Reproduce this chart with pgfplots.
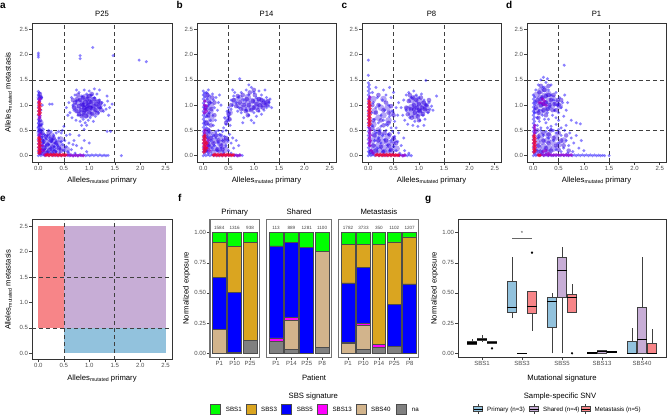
\documentclass[border=0pt]{standalone}
\usepackage{pgfplots}
\pgfplotsset{compat=1.18}
\usepackage{fontspec}
\setmainfont{Liberation Sans}

\newcommand{\fsz}[1]{\fontsize{#1bp}{#1bp}\selectfont}
\newcommand{\mutlab}{Alleles\raisebox{-1.3bp}{\fsz{5.2}mutated}}

% signature colours
\definecolor{cS1}{HTML}{00FF00}
\definecolor{cS3}{HTML}{DAA520}
\definecolor{cS5}{HTML}{0000FF}
\definecolor{cS13}{HTML}{FF00FF}
\definecolor{cS40}{HTML}{D2B48C}
\definecolor{cNA}{HTML}{808080}
% sample groups
\definecolor{cPri}{HTML}{92C2DD}
\definecolor{cSha}{HTML}{C7ADD6}
\definecolor{cMet}{HTML}{F78588}
% density shades for the allele scatter
\definecolor{ptB}{HTML}{2E1CFF}
\definecolor{ptM}{HTML}{3000E0}
\definecolor{ptD}{HTML}{3A10E8}
\definecolor{ptP}{HTML}{9900CC}
\definecolor{ptR}{HTML}{F5002E}

\pgfplotsset{
  ggax/.style={
    scale only axis, anchor=south west,
    axis line style={draw=black!80, line width=0.5bp},
    tick align=outside, tick pos=left,
    major tick length=2.6bp,
    tick style={draw=black!75, line width=0.45bp},
    tick label style={font=\fsz{6}, text=black!70, inner sep=1.2bp},
    /pgf/number format/assume math mode=true,
  },
  allele/.style={ggax, width=139bp, height=139bp,
    xmin=-0.125, xmax=2.625, ymin=-0.125, ymax=2.625,
    xtick={0,0.5,1,1.5,2,2.5}, ytick={0,0.5,1,1.5,2,2.5},
    /pgf/number format/fixed, /pgf/number format/fixed zerofill,
    /pgf/number format/precision=1,
  },
  pt/.style={only marks, mark=*, mark size=1.65bp, color=#1,
    mark options={draw opacity=0, fill opacity=0.55}},
  ptcore/.style={only marks, mark=*, mark size=2.3bp, color=#1,
    mark options={draw opacity=0, fill opacity=0.5}},
  ptblob/.style={only marks, mark=*, mark size=3.3bp, color=#1,
    mark options={draw opacity=0, fill opacity=0.38}},
  pthot/.style={only marks, mark=*, mark size=1.9bp, color=#1,
    mark options={draw opacity=0, fill opacity=0.72}},
  expo/.style={ggax, height=138.2bp, ymin=-0.035, ymax=1.11,
    /pgf/number format/fixed, /pgf/number format/fixed zerofill,
    /pgf/number format/precision=2,
  },
  facet/.style={expo, ybar stacked, bar width=0.9,
    axis line style={draw=black!55, line width=1.1bp},
    every axis plot/.append style={draw=black!70, line width=0.7bp},
  },
}
\tikzset{
  dashln/.style={black!75, line width=0.55bp, dash pattern=on 4bp off 3bp},
  lab/.style={font=\fsz{7.7}, inner sep=0pt},
  plet/.style={font=\fsz{10}\bfseries, inner sep=0pt, anchor=base west},
}
\newcommand{\quads}{%
  \draw[dashln] (axis cs:0.5,-0.125) -- (axis cs:0.5,2.625);
  \draw[dashln] (axis cs:1.5,-0.125) -- (axis cs:1.5,2.625);
  \draw[dashln] (axis cs:-0.125,0.5) -- (axis cs:2.625,0.5);
  \draw[dashln] (axis cs:-0.125,1.5) -- (axis cs:2.625,1.5);
}
% one box of a box plot: left, centre, right, lower whisker, Q1, median, Q3, upper whisker, fill
\newcommand{\gbox}[9]{%
  \addplot[draw=black!75, line width=0.5bp] coordinates {(#2,#4)(#2,#5)};
  \addplot[draw=black!75, line width=0.5bp] coordinates {(#2,#7)(#2,#8)};
  \addplot[fill=#9, draw=black!75, line width=0.5bp] coordinates {(#1,#5)(#3,#5)(#3,#7)(#1,#7)} -- cycle;
  \addplot[draw=black, line width=1.1bp] coordinates {(#1,#6)(#3,#6)};
}

\begin{document}
\begin{tikzpicture}[x=1bp,y=1bp]
\useasboundingbox (0,0) rectangle (667,415);

% ---------------- a : P25 ----------------
\begin{axis}[allele, at={(32bp,253bp)}, width=140bp]
\addplot[ptblob=ptD] coordinates {
(0.72,0.98)(0.78,0.9)(0.78,1.06)(0.85,0.84)(0.85,0.98)(0.85,1.12)(0.92,0.8)(0.92,0.92)(0.92,1.04)(0.92,1.16)
(1,0.82)(1,0.94)(1,1.06)(1,1.16)(1.08,0.86)(1.08,0.98)(1.08,1.1)(1.15,0.92)(1.15,1.04)(1.2,0.98)
(0.06,0.08)(0.14,0.06)(0.22,0.08)(0.1,0.16)(0.18,0.18)(0.28,0.14)(0.06,0.28)(0.14,0.28)(0.24,0.26)(0.34,0.2)
(0.1,0.38)(0.2,0.36)(0.3,0.3)(0.4,0.24)(0.38,0.1)(0.48,0.16)(0.3,0.06)(0.44,0.32)(0.26,0.4)(0.56,0.12)
(0.03,0.45)(0.03,0.55)(0.04,0.65)(0.03,1.15)
};
\addplot[pt=ptB] coordinates {
(0,0)(0.025,0.04)(0,0.08)(0.025,0.12)(0,0.16)(0.025,0.2)(0,0.24)(0.025,0.28)(0,0.32)(0.025,0.36)
(0,0.4)(0.025,0.44)(0,0.48)(0.025,0.52)(0,0.56)(0.025,0.6)(0,0.64)(0.025,0.68)(0,0.72)(0.025,0.76)
(0,0.8)(0.025,0.84)(0,0.88)(0.025,0.92)(0,0.96)(0.025,1)(0,1.04)(0.025,1.08)(0,1.12)(0.025,1.16)
(0,1.2)(0.02,1.24)(0,1.27)(0.06,0.5)(0.07,0.62)(0.05,0.9)(0.08,1)(0.06,1.15)(0.09,0.3)
(0.05,0)(0.09,0.015)(0.13,0)(0.17,0.015)(0.21,0)(0.25,0.015)(0.29,0)(0.33,0.015)(0.37,0)(0.41,0.015)
(0.45,0)(0.49,0.015)(0.53,0)(0.57,0.015)(0.61,0)(0.65,0.015)(0.69,0)(0.73,0.015)(0.77,0)(0.81,0.015)
(0.85,0)(0.89,0.015)(0.93,0)(0.97,0.015)(1.01,0)(1.05,0.015)(1.09,0)(1.13,0.015)(1.17,0)(1.21,0.015)
(1.25,0)(1.29,0.01)(1.33,0)(1.37,0.005)(1.63,0)
(0.05,0.45)(0.08,0.38)(0.12,0.42)(0.15,0.33)(0.18,0.4)(0.22,0.35)(0.25,0.28)(0.28,0.32)(0.3,0.4)(0.33,0.25)
(0.35,0.3)(0.38,0.2)(0.4,0.35)(0.42,0.15)(0.45,0.28)(0.48,0.22)(0.5,0.1)(0.52,0.3)(0.55,0.18)(0.58,0.08)
(0.6,0.25)(0.62,0.42)(0.65,0.12)(0.7,0.3)(0.72,0.05)(0.75,0.2)(0.8,0.4)(0.85,0.15)(0.47,0.5)(0.5,0.58)
(0.45,0.45)(0.4,0.48)(0.35,0.45)(0.25,0.48)(0.2,0.5)(0.1,0.52)(0.3,0.12)(0.35,0.08)(0.25,0.15)(0.2,0.22)
(0.15,0.2)(0.1,0.25)(0.12,0.12)(0.18,0.08)(0.22,0.05)(0.28,0.05)(0.32,0.18)(0.42,0.05)(0.55,0.4)(0.6,0.05)
(0.68,0.22)(0.95,0.08)(1,0.25)(0.9,0.3)
(0.55,0.95)(0.6,1.05)(0.62,0.85)(0.65,1.15)(0.66,0.75)(0.68,1)(0.7,0.9)(0.72,1.2)(0.74,0.7)(0.75,1.08)
(0.78,0.8)(0.8,1.25)(0.82,0.68)(0.85,1.18)(0.88,0.72)(0.9,1.3)(0.92,0.65)(0.95,1.22)(0.98,0.7)(1,1.28)
(1.02,0.75)(1.05,1.2)(1.08,0.68)(1.1,1.15)(1.12,0.78)(1.15,1.22)(1.18,0.85)(1.2,1.1)(1.22,0.95)(1.25,1.05)
(1.28,0.88)(1.3,1)(1.33,0.92)(1.36,1.08)(1.4,0.95)(1.45,1.02)(1.2,1.3)(1.1,1.32)(0.95,0.6)(0.85,0.6)
(0.75,1.3)(0.58,0.8)(1.38,0.8)(1.35,1.18)(0.9,0.52)(1.35,0.48)(1.42,0.48)
(0,1.95)(0,1.99)(0,2.03)(0.82,1.92)(0.82,1.98)(1.07,2.14)(1.47,1.98)(1.98,1.89)(2.12,1.86)(0.22,1.02)(0.27,1.02)
};
\addplot[ptcore=ptM] coordinates {
(0.7,0.95)(0.72,1.05)(0.75,0.88)(0.76,1.12)(0.8,0.98)(0.8,0.82)(0.82,1.1)(0.84,0.9)(0.86,1.02)(0.88,1.15)
(0.9,0.85)(0.9,0.95)(0.92,1.06)(0.94,0.78)(0.95,0.92)(0.96,1.12)(0.98,1)(1,0.86)(1,1.18)(1.02,0.95)
(1.04,1.06)(1.06,0.82)(1.08,0.98)(1.1,1.12)(1.12,0.9)(1.14,1.02)(1.16,0.84)(1.18,1.08)(1.2,0.96)(1.22,1.04)
(0.85,0.78)(1.05,1.22)(0.78,1.2)(1.24,0.9)(0.68,1.1)(0.88,1)(0.96,0.98)(1.04,0.94)(0.92,0.9)(1,1.06)
(0.04,0.05)(0.08,0.1)(0.06,0.2)(0.12,0.15)(0.1,0.28)(0.16,0.06)(0.18,0.22)(0.22,0.12)(0.25,0.3)(0.28,0.18)
(0.32,0.08)(0.35,0.25)(0.15,0.38)(0.05,0.35)(0.4,0.15)(0.3,0.35)(0.45,0.1)(0.2,0.45)(0.08,0.45)
(0.03,0.5)(0.03,0.6)(0.03,0.7)(0.04,1.15)(0.03,1.22)
};
\addplot[pthot=ptP] coordinates {
(0.02,0.38)(0.03,0.42)(0.02,0.75)(0.03,0.79)(0.02,1.08)(0.03,1.12)(0.58,0.01)(0.63,0.01)(0.68,0)(0.73,0.01)
(0.78,0)(0.83,0.01)(0.88,0)(0.05,0.12)(0.08,0.2)(0.1,0.1)(0.04,0.05)(0.12,0.02)(0.15,0.03)
};
\addplot[pthot=ptR] coordinates {
(0.01,0.05)(0.035,0.08)(0.01,0.11)(0.035,0.14)(0.01,0.17)(0.035,0.2)(0.01,0.23)(0.035,0.26)(0.01,0.29)(0.03,0.32)(0.01,0.35)
(0.01,0.82)(0.035,0.85)(0.01,0.88)(0.035,0.91)(0.01,0.94)(0.035,0.97)(0.01,1)(0.035,1.03)(0.01,1.06)
(0.15,0.01)(0.18,0.025)(0.21,0.005)(0.24,0.025)(0.27,0.005)(0.3,0.025)(0.33,0.005)(0.36,0.025)(0.39,0.005)
(0.42,0.025)(0.45,0.005)(0.48,0.02)(0.51,0.005)(0.54,0.015)
};
\quads
\end{axis}

% ---------------- b : P14 ----------------
\begin{axis}[allele, at={(197bp,253bp)}]
\addplot[ptblob=ptD] coordinates {
(0.62,1.08)(0.7,1)(0.72,1.14)(0.8,0.95)(0.8,1.08)(0.88,0.92)(0.88,1.04)(0.88,1.16)(0.96,0.95)(0.96,1.08)
(1.04,0.96)(1.04,1.08)(1.12,0.98)(1.12,1.1)(1.2,1.02)(1.26,1.05)(0.48,0.72)(0.52,0.85)
(0.05,0.12)(0.12,0.1)(0.08,0.22)(0.16,0.22)(0.06,0.35)(0.14,0.34)(0.24,0.3)(0.32,0.25)(0.22,0.15)(0.3,0.12)
(0.08,0.5)(0.06,0.65)(0.08,0.8)(0.06,0.95)(0.1,1.1)(0.06,1.2)(0.15,1)(0.4,0.2)
(0.2,0.06)(0.36,0.06)(0.44,0.12)(0.22,0.42)(0.34,0.38)(0.46,0.3)(0.12,0.46)(0.16,0.72)(0.14,0.88)
};
\addplot[pt=ptB] coordinates {
(0,0)(0.025,0.04)(0,0.08)(0.025,0.12)(0,0.16)(0.025,0.2)(0,0.24)(0.025,0.28)(0,0.32)(0.025,0.36)
(0,0.4)(0.025,0.44)(0,0.48)(0.025,0.52)(0,0.56)(0.025,0.6)(0,0.64)(0.025,0.68)(0,0.72)(0.025,0.76)
(0,0.8)(0.025,0.84)(0,0.88)(0.025,0.92)(0,0.96)(0.025,1)(0,1.04)(0.025,1.08)(0,1.12)(0.025,1.16)
(0,1.2)(0.02,1.24)(0,1.28)
(0.06,0.1)(0.1,0.2)(0.08,0.35)(0.12,0.45)(0.06,0.55)(0.1,0.62)(0.14,0.7)(0.07,0.78)(0.12,0.85)(0.05,0.92)
(0.1,1)(0.15,1.05)(0.08,1.12)(0.13,1.18)(0.06,1.25)(0.1,1.3)(0.18,1.22)(0.2,1.1)(0.22,0.95)(0.18,0.8)
(0.25,1.15)(0.3,1.05)(0.28,0.9)(0.24,0.7)(0.2,0.6)(0.32,1.2)(0.35,1)
(0.05,0)(0.09,0.015)(0.13,0)(0.17,0.015)(0.21,0)(0.25,0.015)(0.29,0)(0.33,0.015)(0.37,0)(0.41,0.015)
(0.45,0)(0.49,0.015)(0.53,0)(0.57,0.015)(0.61,0)(0.65,0.015)(0.69,0)(0.73,0.015)(0.77,0.005)
(0.1,0.05)(0.15,0.3)(0.2,0.4)(0.22,0.2)(0.25,0.35)(0.28,0.1)(0.3,0.25)(0.32,0.42)(0.35,0.15)(0.38,0.3)
(0.4,0.05)(0.42,0.38)(0.45,0.2)(0.48,0.3)(0.5,0.1)(0.52,0.42)(0.55,0.25)(0.58,0.35)(0.6,0.15)(0.38,0.48)
(0.3,0.5)(0.45,0.5)(0.25,0.48)(0.65,0.3)(0.7,0.2)(0.55,0.05)(0.18,0.15)(0.35,0.4)
(0.4,0.55)(0.45,0.62)(0.48,0.7)(0.5,0.78)(0.52,0.85)(0.42,0.75)(0.55,0.92)(0.5,0.95)(0.58,1)(0.55,1.1)
(0.6,1.18)(0.62,1.25)(0.58,1.3)(0.47,0.88)(0.53,0.6)
(0.65,1.05)(0.7,1.15)(0.7,0.95)(0.75,1.25)(0.75,0.85)(0.8,1.1)(0.8,0.75)(0.85,1.3)(0.85,0.9)(0.9,1.2)
(0.9,0.8)(0.95,1.35)(0.95,0.7)(1,1.25)(1,0.85)(1.05,1.15)(1.05,0.78)(1.1,1.28)(1.1,0.88)(1.15,1.2)
(1.15,0.82)(1.2,1.1)(1.2,0.9)(1.25,1.15)(1.25,0.95)(1.3,1.05)(1.3,0.98)(1.35,0.95)(1.32,1.12)(1.22,1.3)
(0.72,1.52)(0.78,0.65)(1,0.65)(0.9,1.4)(0.68,0.88)
};
\addplot[ptcore=ptM] coordinates {
(0.6,1.1)(0.65,0.98)(0.68,1.18)(0.72,1.05)(0.75,0.92)(0.78,1.2)(0.8,1)(0.84,0.88)(0.86,1.12)(0.9,1)
(0.92,1.25)(0.95,0.9)(0.98,1.08)(1,0.95)(1.02,1.2)(1.05,1.02)(1.08,0.9)(1.1,1.12)(1.12,1)(1.15,1.1)
(1.18,0.95)(1.2,1.05)(1.25,1)(1.28,1.08)(0.88,0.8)(1,1.3)(0.45,0.65)(0.5,0.82)(0.55,1)(0.52,0.72)
(0.05,0.1)(0.08,0.25)(0.12,0.18)(0.06,0.4)(0.1,0.5)(0.15,0.35)(0.2,0.25)(0.06,0.65)(0.1,0.8)(0.05,0.95)
(0.12,1.05)(0.08,1.2)(0.16,0.92)(0.18,1.15)(0.22,1.05)(0.25,0.4)(0.3,0.3)(0.35,0.2)(0.28,0.12)(0.4,0.3)
(0.15,0.6)(0.22,0.8)(0.45,0.35)(0.38,0.12)
};
\addplot[pthot=ptP] coordinates {
(0.02,0.45)(0.03,0.5)(0.02,0.85)(0.03,0.92)(0.02,1)(0.03,1.08)(0.05,0.15)(0.08,0.2)(0.12,0.1)(0.62,0.01)
(0.67,0)(0.72,0.01)(0.1,0.3)(0.06,0.88)(0.06,0.98)
};
\addplot[pthot=ptR] coordinates {
(0.01,0.07)(0.04,0.1)(0.01,0.13)(0.04,0.16)(0.01,0.19)(0.04,0.22)(0.01,0.25)(0.04,0.28)(0.01,0.31)(0.04,0.34)
(0.01,0.37)(0.03,0.4)(0.07,0.15)(0.07,0.25)
(0.2,0.01)(0.23,0.025)(0.26,0.005)(0.29,0.025)(0.32,0.005)(0.35,0.025)(0.38,0.005)(0.41,0.025)(0.44,0.005)
(0.47,0.025)(0.5,0.005)(0.53,0.02)(0.56,0.005)(0.59,0.015)
};
\quads
\end{axis}

% ---------------- c : P8 ----------------
\begin{axis}[allele, at={(362bp,253bp)}]
\addplot[ptblob=ptD] coordinates {
(0.78,0.92)(0.85,0.82)(0.85,0.96)(0.85,1.1)(0.93,0.78)(0.93,0.9)(0.93,1.02)(0.93,1.14)(1.01,0.84)(1.01,0.96)
(1.01,1.08)(1.09,0.9)(1.09,1.02)(1.15,0.96)
(0.06,0.06)(0.14,0.08)(0.22,0.1)(0.1,0.18)(0.2,0.2)(0.3,0.16)(0.4,0.12)(0.08,0.3)(0.18,0.32)(0.28,0.28)
(0.38,0.26)(0.48,0.22)(0.12,0.42)(0.25,0.4)(0.38,0.38)(0.5,0.3)(0.32,0.06)(0.46,0.08)(0.56,0.14)(0.2,0.5)
(0.1,0.62)(0.2,0.75)(0.3,0.8)(0.12,0.88)(0.25,0.95)(0.38,0.95)(0.1,1.12)(0.3,1.12)(0.4,0.7)(0.46,0.85)
};
\addplot[pt=ptB] coordinates {
(0,0)(0.025,0.04)(0,0.08)(0.025,0.12)(0,0.16)(0.025,0.2)(0,0.24)(0.025,0.28)(0,0.32)(0.025,0.36)
(0,0.4)(0.025,0.44)(0,0.48)(0.025,0.52)(0,0.56)(0.025,0.6)(0,0.64)(0.025,0.68)(0,0.72)(0.025,0.76)
(0,0.8)(0.025,0.84)(0,0.88)(0.025,0.92)(0,0.96)(0.025,1)(0,1.04)(0.025,1.08)(0,1.12)(0.025,1.16)
(0,1.2)(0.025,1.24)(0,1.28)(0.025,1.32)(0,1.36)(0.02,1.4)(0,1.44)(0,1.59)(0,1.89)
(0.05,0)(0.09,0.015)(0.13,0)(0.17,0.015)(0.21,0)(0.25,0.015)(0.29,0)(0.33,0.015)(0.37,0)(0.41,0.015)
(0.45,0)(0.49,0.015)(0.53,0)(0.57,0.015)(0.61,0)(0.65,0.015)(0.69,0)(0.73,0.015)(0.77,0)(0.81,0.015)(0.85,0)
(0.08,0.05)(0.12,0.3)(0.15,0.45)(0.18,0.15)(0.2,0.35)(0.22,0.5)(0.25,0.25)(0.28,0.4)(0.3,0.08)(0.32,0.32)
(0.35,0.5)(0.38,0.2)(0.4,0.42)(0.42,0.1)(0.45,0.3)(0.48,0.48)(0.5,0.18)(0.52,0.38)(0.55,0.1)(0.58,0.28)
(0.6,0.45)(0.62,0.05)(0.65,0.2)(0.7,0.35)(0.72,0.1)(0.8,0.05)(0.55,0.55)(0.45,0.55)
(0.08,0.6)(0.12,0.72)(0.06,0.85)(0.15,0.95)(0.1,1.05)(0.18,1.15)(0.08,1.25)(0.2,0.65)(0.25,0.8)(0.22,1)
(0.28,1.1)(0.3,0.7)(0.32,0.9)(0.35,1.2)(0.38,0.6)(0.4,1)(0.42,0.78)(0.45,1.15)(0.48,0.88)(0.5,1.25)
(0.52,0.68)(0.55,0.95)(0.3,1.3)(0.15,1.35)(0.42,1.35)(0.6,1.05)(0.58,0.8)(0.25,0.58)(0.12,0.5)(0.35,0.62)
(0.65,0.95)(0.68,0.8)(0.7,1.1)(0.72,0.7)(0.75,1.2)(0.78,0.62)(0.8,1.25)(0.82,0.75)(0.85,1.15)(0.88,0.6)
(0.9,1.28)(0.92,0.68)(0.95,1.2)(0.98,0.58)(1,1.15)(1.02,0.7)(1.05,1.22)(1.08,0.8)(1.1,1.1)(1.12,0.72)
(1.15,1)(1.18,0.85)(1.2,1.05)(1.22,0.92)(1.25,0.98)(1.28,0.9)(1.35,1.18)(1.14,1.49)(0.75,0.9)(1.1,0.6)
};
\addplot[ptcore=ptM] coordinates {
(0.75,0.95)(0.78,0.82)(0.8,1.08)(0.84,0.92)(0.86,0.75)(0.88,1.15)(0.9,1)(0.92,0.85)(0.95,1.1)(0.96,0.95)
(0.98,0.78)(1,1.02)(1.02,0.88)(1.04,1.15)(1.06,0.95)(1.08,0.82)(1.1,1.05)(1.12,0.92)(1.15,1)(1.18,0.88)
(0.82,1.2)(1,0.7)(1.2,1.1)(0.9,0.92)(1,0.9)
(0.05,0.08)(0.1,0.2)(0.15,0.1)(0.2,0.3)(0.25,0.18)(0.3,0.08)(0.35,0.3)(0.4,0.2)(0.45,0.12)(0.5,0.35)
(0.12,0.4)(0.22,0.45)(0.32,0.45)(0.08,0.55)(0.55,0.25)(0.42,0.42)
(0.1,0.7)(0.15,0.85)(0.2,1)(0.25,0.7)(0.3,0.9)(0.35,1.05)(0.4,0.85)(0.45,0.98)(0.08,1)(0.2,1.2)
(0.3,0.6)(0.4,0.65)(0.5,0.8)
};
\addplot[pthot=ptP] coordinates {
(0.03,0.2)(0.02,0.25)(0.04,0.3)(0.02,0.35)(0.04,0.4)(0.02,0.45)(0.04,0.5)(0.02,0.55)(0.02,1.12)(0.03,1.16)
(0.06,0.1)(0.1,0.05)(0.62,0.01)(0.68,0)(0.72,0.01)
};
\addplot[pthot=ptR] coordinates {
(0.01,0.6)(0.035,0.63)(0.01,0.66)(0.035,0.69)(0.01,0.72)(0.035,0.75)(0.01,0.78)(0.035,0.81)(0.01,0.84)
(0.035,0.87)(0.01,0.9)(0.035,0.93)(0.01,0.96)(0.035,0.99)(0.01,1.02)(0.03,1.05)(0.01,1.08)
(0.15,0.01)(0.18,0.025)(0.21,0.005)(0.24,0.025)(0.27,0.005)(0.3,0.025)(0.33,0.005)(0.36,0.025)(0.39,0.005)
(0.42,0.025)(0.45,0.005)(0.48,0.02)(0.51,0.005)(0.54,0.015)(0.57,0.005)(0.6,0.01)
};
\quads
\end{axis}

% ---------------- d : P1 ----------------
\begin{axis}[allele, at={(527bp,253bp)}]
\addplot[ptblob=ptD] coordinates {
(0.06,0.9)(0.06,1.05)(0.06,1.2)(0.14,0.86)(0.14,1)(0.14,1.14)(0.14,1.28)(0.22,0.9)(0.22,1.04)(0.22,1.18)
(0.22,1.32)(0.3,0.95)(0.3,1.08)(0.3,1.22)(0.38,1)(0.38,1.14)(0.46,1.05)(0.52,0.98)
(0.06,0.06)(0.14,0.06)(0.22,0.08)(0.3,0.06)(0.1,0.16)(0.2,0.18)(0.3,0.16)(0.4,0.14)(0.08,0.28)(0.18,0.28)
(0.28,0.3)(0.38,0.26)(0.5,0.22)(0.15,0.4)(0.3,0.4)(0.45,0.36)(0.6,0.3)
};
\addplot[pt=ptB] coordinates {
(0,0)(0.025,0.04)(0,0.08)(0.025,0.12)(0,0.16)(0.025,0.2)(0,0.24)(0.025,0.28)(0,0.32)(0.025,0.36)
(0,0.4)(0.025,0.44)(0,0.48)(0.025,0.52)(0,0.56)(0.025,0.6)(0,0.64)(0.025,0.68)(0,0.72)(0.025,0.76)
(0,0.8)(0.025,0.84)(0,0.88)(0.025,0.92)(0,0.96)(0.025,1)(0,1.04)(0.025,1.08)(0,1.12)(0.025,1.16)(0,1.2)
(0.05,0)(0.09,0.015)(0.13,0)(0.17,0.015)(0.21,0)(0.25,0.015)(0.29,0)(0.33,0.015)(0.37,0)(0.41,0.015)
(0.45,0)(0.49,0.015)(0.53,0)(0.57,0.015)(0.61,0)(0.65,0.015)(0.69,0)(0.73,0.015)(0.77,0)(0.81,0.015)
(0.85,0)(0.89,0.015)(0.93,0)(0.97,0.015)(1.01,0)(1.05,0.015)(1.09,0)(1.13,0.015)(1.17,0)(1.21,0.015)
(1.25,0)(1.29,0.01)(1.33,0)(1.37,0.005)(1.41,0)(1.5,0)
(0.02,0.85)(0.05,1.3)(0.08,0.75)(0.1,1.4)(0.12,0.9)(0.15,1.5)(0.18,0.8)(0.2,1.35)(0.22,0.72)(0.25,1.45)
(0.28,0.85)(0.3,1.3)(0.32,0.95)(0.35,1.2)(0.38,0.8)(0.4,1.1)(0.42,0.9)(0.45,1.25)(0.48,1)(0.5,0.85)
(0.52,1.15)(0.55,0.95)(0.58,1.05)(0.6,0.78)(0.62,1.2)(0.65,0.9)(0.68,1.05)(0.35,1.4)(0.2,1.55)(0.28,1.52)
(0.45,0.75)(0.05,1.05)(0.61,1.79)
(0.08,0.6)(0.15,0.55)(0.25,0.65)(0.35,0.58)(0.45,0.62)(0.55,0.55)(0.65,0.6)(0.75,0.7)(0.85,0.65)(0.93,0.63)
(0.5,0.7)(0.3,0.72)(0.12,0.68)
(0.05,0.45)(0.1,0.35)(0.15,0.5)(0.2,0.4)(0.25,0.48)(0.3,0.35)(0.35,0.52)(0.4,0.3)(0.45,0.45)(0.5,0.25)
(0.55,0.4)(0.6,0.15)(0.62,0.5)(0.65,0.3)(0.7,0.2)(0.72,0.45)(0.75,0.35)(0.8,0.25)(0.85,0.4)(0.9,0.15)
(0.78,0.08)(0.68,0.05)(0.55,0.08)(0.45,0.12)(0.95,0.3)(1,0.1)(0.5,0.52)(0.4,0.5)(0.28,0.55)
};
\addplot[ptcore=ptM] coordinates {
(0.05,0.95)(0.08,1.1)(0.1,0.85)(0.12,1.25)(0.15,1)(0.18,1.15)(0.2,0.9)(0.22,1.3)(0.25,1.05)(0.28,0.92)
(0.3,1.2)(0.32,1)(0.35,1.1)(0.38,0.9)(0.4,1.2)(0.42,1.02)(0.45,0.9)(0.48,1.1)(0.15,1.38)(0.3,1.38)
(0.25,0.8)(0.5,1)(0.55,1.1)(0.1,0.75)(0.15,1.12)(0.25,1.18)(0.2,1.02)
(0.05,0.1)(0.1,0.2)(0.15,0.08)(0.2,0.3)(0.25,0.15)(0.3,0.25)(0.35,0.1)(0.4,0.35)(0.45,0.2)(0.5,0.12)
(0.55,0.3)(0.1,0.38)(0.2,0.45)(0.3,0.42)(0.6,0.2)(0.65,0.4)(0.35,0.5)(0.7,0.1)(0.5,0.45)(0.08,0.5)
};
\addplot[pthot=ptP] coordinates {
(0.15,1.05)(0.2,1.02)(0.22,1.08)(0.18,1.12)(0.25,1)(0.12,1.05)(0.2,0.08)(0.25,0.1)(0.3,0.05)(0.15,0.02)
(0.2,0.01)(0.25,0.02)(0.3,0.01)(0.35,0.015)(0.4,0.01)(0.45,0.015)(0.5,0.01)(0.55,0.015)(0.6,0.01)(0.65,0.015)
(0.7,0.01)(0.75,0.015)(0.02,0.45)(0.03,0.5)(0.02,0.55)(0.03,0.6)
};
\addplot[pthot=ptR] coordinates {
(0.01,0.07)(0.035,0.1)(0.01,0.13)(0.035,0.16)(0.01,0.19)(0.035,0.22)(0.01,0.25)(0.035,0.28)(0.01,0.31)
(0.035,0.34)(0.01,0.37)(0.02,0.4)(0.1,0.01)(0.13,0.005)
};
\quads
\end{axis}

% ---------------- e : quadrant scheme ----------------
\begin{axis}[allele, at={(32bp,55.3bp)}, width=140bp, height=140bp]
\addplot[fill=cMet, draw=none] coordinates {(0,0.5)(0.5,0.5)(0.5,2.5)(0,2.5)} -- cycle;
\addplot[fill=cSha, draw=none] coordinates {(0.5,0.5)(2.5,0.5)(2.5,2.5)(0.5,2.5)} -- cycle;
\addplot[fill=cPri, draw=none] coordinates {(0.5,0)(2.5,0)(2.5,0.5)(0.5,0.5)} -- cycle;
\quads
\end{axis}

% ---------------- f : signature exposure per patient ----------------
\begin{axis}[facet, at={(210bp,57.5bp)}, width=49.3bp,
  xmin=0.4, xmax=3.6, xtick={1,2,3}, xticklabels={P1,P10,P25},
  ytick={0,0.25,0.5,0.75,1}]
\addplot[fill=cNA]  coordinates {(1,0)(2,0)(3,0.11)};
\addplot[fill=cS40] coordinates {(1,0.2)(2,0)(3,0)};
\addplot[fill=cS13] coordinates {(1,0)(2,0.01)(3,0)};
\addplot[fill=cS5]  coordinates {(1,0.43)(2,0.495)(3,0)};
\addplot[fill=cS3]  coordinates {(1,0.29)(2,0.379)(3,0.807)};
\addplot[fill=cS1]  coordinates {(1,0.08)(2,0.116)(3,0.083)};
\node[font=\fsz{4.6}, text=black!75] at (axis cs:1,1.035) {1584};
\node[font=\fsz{4.6}, text=black!75] at (axis cs:2,1.035) {1316};
\node[font=\fsz{4.6}, text=black!75] at (axis cs:3,1.035) {938};
\end{axis}

\begin{axis}[facet, at={(266.7bp,57.5bp)}, width=64.7bp,
  xmin=0.4, xmax=4.6, xtick={1,2,3,4}, xticklabels={P1,P14,P25,P8},
  ytick=\empty]
\addplot[fill=cNA]  coordinates {(1,0.097)(2,0.033)(3,0)(4,0.05)};
\addplot[fill=cS40] coordinates {(1,0)(2,0.237)(3,0)(4,0.795)};
\addplot[fill=cS13] coordinates {(1,0.03)(2,0.026)(3,0)(4,0)};
\addplot[fill=cS5]  coordinates {(1,0.763)(2,0.621)(3,0.878)(4,0)};
\addplot[fill=cS3]  coordinates {(1,0)(2,0)(3,0)(4,0)};
\addplot[fill=cS1]  coordinates {(1,0.11)(2,0.083)(3,0.122)(4,0.155)};
\node[font=\fsz{4.6}, text=black!75] at (axis cs:1,1.035) {113};
\node[font=\fsz{4.6}, text=black!75] at (axis cs:2,1.035) {889};
\node[font=\fsz{4.6}, text=black!75] at (axis cs:3,1.035) {1281};
\node[font=\fsz{4.6}, text=black!75] at (axis cs:4,1.035) {1100};
\end{axis}

\begin{axis}[facet, at={(338.8bp,57.5bp)}, width=80.1bp,
  xmin=0.4, xmax=5.6, xtick={1,2,3,4,5}, xticklabels={P1,P10,P14,P25,P8},
  ytick=\empty]
\addplot[fill=cNA]  coordinates {(1,0)(2,0.033)(3,0.05)(4,0.056)(5,0)};
\addplot[fill=cS40] coordinates {(1,0.083)(2,0.198)(3,0)(4,0)(5,0)};
\addplot[fill=cS13] coordinates {(1,0.009)(2,0.013)(3,0.025)(4,0)(5,0)};
\addplot[fill=cS5]  coordinates {(1,0.491)(2,0.47)(3,0)(4,0.347)(5,0.575)};
\addplot[fill=cS3]  coordinates {(1,0.32)(2,0.189)(3,0.828)(4,0.519)(5,0.389)};
\addplot[fill=cS1]  coordinates {(1,0.097)(2,0.097)(3,0.097)(4,0.078)(5,0.036)};
\node[font=\fsz{4.6}, text=black!75] at (axis cs:1,1.035) {1782};
\node[font=\fsz{4.6}, text=black!75] at (axis cs:2,1.035) {3733};
\node[font=\fsz{4.6}, text=black!75] at (axis cs:3,1.035) {350};
\node[font=\fsz{4.6}, text=black!75] at (axis cs:4,1.035) {1102};
\node[font=\fsz{4.6}, text=black!75] at (axis cs:5,1.035) {1207};
\end{axis}

% ---------------- g : sample-specific exposure ----------------
\begin{axis}[expo, at={(458bp,57.5bp)}, width=208bp,
  xmin=0.4, xmax=5.6, xtick={1,2,3,4,5},
  xticklabels={SBS1,SBS3,SBS5,SBS13,SBS40},
  ytick={0,0.25,0.5,0.75,1}]
% SBS1
\gbox{0.635}{0.75}{0.865}{0.075}{0.078}{0.085}{0.1}{0.115}{cPri}
\gbox{0.885}{1}{1.115}{0.095}{0.105}{0.116}{0.127}{0.15}{cSha}
\gbox{1.135}{1.25}{1.365}{0.083}{0.085}{0.092}{0.097}{0.097}{cMet}
% SBS3
\gbox{1.635}{1.75}{1.865}{0.29}{0.337}{0.38}{0.6}{0.8}{cPri}
\gbox{1.885}{2}{2.115}{0}{0}{0}{0}{0}{cSha}
\gbox{2.135}{2.25}{2.365}{0.185}{0.33}{0.387}{0.517}{0.517}{cMet}
% SBS5
\gbox{2.635}{2.75}{2.865}{0}{0.215}{0.428}{0.464}{0.497}{cPri}
\gbox{2.885}{3}{3.115}{0}{0.464}{0.685}{0.793}{0.878}{cSha}
\gbox{3.135}{3.25}{3.365}{0.34}{0.34}{0.464}{0.489}{0.572}{cMet}
% SBS13
\gbox{3.635}{3.75}{3.865}{0}{0}{0.002}{0.004}{0.008}{cPri}
\gbox{3.885}{4}{4.115}{0}{0.003}{0.015}{0.027}{0.03}{cSha}
\gbox{4.135}{4.25}{4.365}{0.005}{0.008}{0.011}{0.015}{0.02}{cMet}
% SBS40
\gbox{4.635}{4.75}{4.865}{0}{0}{0}{0.1}{0.21}{cPri}
\gbox{4.885}{5}{5.115}{0}{0}{0.116}{0.378}{0.8}{cSha}
\gbox{5.135}{5.25}{5.365}{0}{0}{0}{0.08}{0.2}{cMet}
% outlying samples
\addplot[only marks, mark=*, mark size=0.95bp, black] coordinates {(1.25,0.04)(2.25,0.834)(3.25,0)};
% significance bracket
\draw[black!60, line width=0.5bp] (axis cs:1.75,0.953) -- (axis cs:2.25,0.953);
\node[font=\fsz{6}, text=black!75, inner sep=0pt] at (axis cs:2,0.99) {*};
\end{axis}

% ---------------- titles, labels, panel letters ----------------
\node[plet] at (0,406.5) {a};
\node[plet] at (176.5,406.5) {b};
\node[plet] at (341.5,406.5) {c};
\node[plet] at (506,406.5) {d};
\node[plet] at (0,213.5) {e};
\node[plet] at (178,213.5) {f};
\node[plet] at (425,213.5) {g};

\node[lab, anchor=base] at (102,398.7) {P25};
\node[lab, anchor=base] at (266.5,398.7) {P14};
\node[lab, anchor=base] at (431.5,398.7) {P8};
\node[lab, anchor=base] at (596.5,398.7) {P1};

\foreach \cx in {102,266.5,431.5,596.5}
  \node[lab, anchor=base] at (\cx,232.7) {\mutlab{} primary};
\node[lab, anchor=base] at (102,35) {\mutlab{} primary};
\node[lab, anchor=base, rotate=90] at (10.5,322.5) {\mutlab{} metastasis};
\node[lab, anchor=base, rotate=90] at (10.5,125.3) {\mutlab{} metastasis};

\node[lab, anchor=base] at (234.7,201) {Primary};
\node[lab, anchor=base] at (299,201) {Shared};
\node[lab, anchor=base] at (378.9,201) {Metastasis};
\node[lab, anchor=base, rotate=90] at (188.5,126.6) {Normalized exposure};
\node[lab, anchor=base] at (314,34.5) {Patient};
\node[lab, anchor=base, rotate=90] at (436.5,126.6) {Normalized exposure};
\node[lab, anchor=base] at (562,34.5) {Mutational signature};

% ---------------- legends ----------------
\node[lab, anchor=base] at (313.3,16.3) {SBS signature};
\foreach \kx/\kc/\kt in {210.7/cS1/SBS1, 246/cS3/SBS3, 281.7/cS5/SBS5, 317.3/cS13/SBS13, 356/cS40/SBS40, 396.7/cNA/na}{
  \draw[fill=\kc, draw=black!70, line width=0.6bp] (\kx,1) rectangle ++(10,10);
  \node[font=\fsz{6.2}, inner sep=0pt, anchor=base west] at (\kx+15,3.3) {\kt};
}
\node[lab, anchor=base] at (560,16.3) {Sample-specific SNV};
\foreach \kx/\kc/\kt in {473/cPri/Primary (n=3), 529/cSha/Shared (n=4), 580.5/cMet/Metastasis (n=5)}{
  \draw[black!75, line width=0.5bp] (\kx+5,1) -- (\kx+5,11);
  \draw[fill=\kc, draw=black!75, line width=0.5bp] (\kx+0.5,3.5) rectangle (\kx+9.5,8.5);
  \draw[black, line width=0.9bp] (\kx+0.5,6) -- (\kx+9.5,6);
  \node[font=\fsz{6.2}, inner sep=0pt, anchor=base west] at (\kx+14,3.3) {\kt};
}
\end{tikzpicture}
\end{document}
